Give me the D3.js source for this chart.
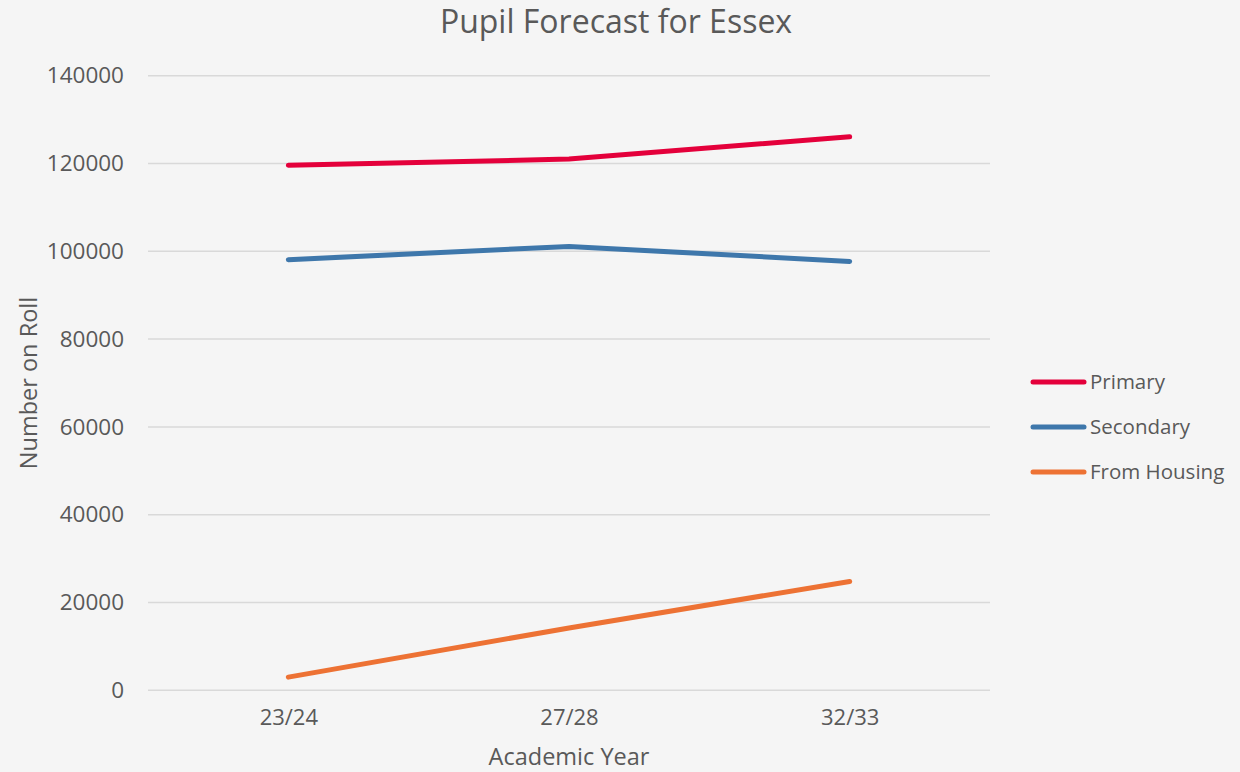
<!DOCTYPE html>
<html>
<head>
<meta charset="utf-8">
<script src="https://cdn.jsdelivr.net/npm/d3@7"></script>
<style>
  body { margin: 0; background: #f5f5f5; }
  svg { display: block; font-family: 'Open Sans', sans-serif; }
  .tick text { fill: #595959; }
</style>
</head>
<body>
<div class="chart"></div>
<script>
const years = ['23/24', '27/28', '32/33']
const primary = [119600, 121000, 126100]
const secondary = [98100, 101100, 97700]
const fromHousing = [3000, 14200, 24800]
const yTicks = [0, 20000, 40000, 60000, 80000, 100000, 120000, 140000]

const seriesNames = ['Primary', 'Secondary', 'From Housing']
const COLORS = ['#e4003b', '#3e77ab', '#ed7234']

const WIDTH = 1240
const HEIGHT = 772
const margin = { top: 75.7, right: 250, bottom: 82, left: 148 }

const series = [primary, secondary, fromHousing].map((values, i) => ({
  name: seriesNames[i],
  color: COLORS[i],
  values: values.map((v, j) => ({ year: years[j], value: v })),
}))

const svg = d3.select('.chart').append('svg')
  .attr('width', WIDTH)
  .attr('height', HEIGHT)

svg.append('rect')
  .attr('width', WIDTH)
  .attr('height', HEIGHT)
  .attr('fill', '#f5f5f5')

const scaleX = d3.scalePoint()
  .domain(years)
  .range([margin.left, 990])
  .padding(0.5)

const scaleY = d3.scaleLinear()
  .domain([0, 140000])
  .range([690.3, margin.top])

// gridlines
svg.append('g')
  .selectAll('line')
  .data(yTicks)
  .join('line')
  .attr('x1', margin.left)
  .attr('x2', 990)
  .attr('y1', d => scaleY(d))
  .attr('y2', d => scaleY(d))
  .attr('stroke', '#d9d9d9')
  .attr('stroke-width', 1.5)

// y axis labels
const yAxis = svg.append('g')
  .attr('transform', `translate(${margin.left}, 0)`)
  .call(d3.axisLeft(scaleY).tickValues(yTicks).tickFormat(d3.format('d')).tickSize(0).tickPadding(24))
yAxis.select('.domain').remove()
yAxis.selectAll('text').attr('font-size', 22.5).attr('font-family', "'Open Sans', sans-serif")

// x axis labels
const xAxis = svg.append('g')
  .attr('transform', `translate(0, ${scaleY(0)})`)
  .call(d3.axisBottom(scaleX).tickSize(0).tickPadding(19))
xAxis.select('.domain').remove()
xAxis.selectAll('text').attr('font-size', 22).attr('font-family', "'Open Sans', sans-serif")

// lines
const line = d3.line()
  .x(d => scaleX(d.year))
  .y(d => scaleY(d.value))

svg.append('g')
  .selectAll('path')
  .data(series)
  .join('path')
  .attr('d', d => line(d.values))
  .attr('fill', 'none')
  .attr('stroke', d => d.color)
  .attr('stroke-width', 5)
  .attr('stroke-linecap', 'round')
  .attr('stroke-linejoin', 'round')

// title
svg.append('text')
  .attr('x', 616)
  .attr('y', 33)
  .attr('text-anchor', 'middle')
  .attr('font-size', 32)
  .attr('fill', '#595959')
  .text('Pupil Forecast for Essex')

// axis titles
svg.append('text')
  .attr('transform', 'translate(37, 383) rotate(-90)')
  .attr('text-anchor', 'middle')
  .attr('font-size', 23.5)
  .attr('fill', '#595959')
  .text('Number on Roll')

svg.append('text')
  .attr('x', 569)
  .attr('y', 765)
  .attr('text-anchor', 'middle')
  .attr('font-size', 23.5)
  .attr('fill', '#595959')
  .text('Academic Year')

// legend
const legend = svg.append('g')
  .selectAll('g')
  .data(series)
  .join('g')
  .attr('transform', (d, i) => `translate(1033, ${382 + i * 45})`)

legend.append('line')
  .attr('x1', 0)
  .attr('x2', 51)
  .attr('stroke', d => d.color)
  .attr('stroke-width', 5)
  .attr('stroke-linecap', 'round')

legend.append('text')
  .attr('x', 57)
  .attr('dy', '0.35em')
  .attr('font-size', 20.5)
  .attr('fill', '#595959')
  .text(d => d.name)
</script>
</body>
</html>
